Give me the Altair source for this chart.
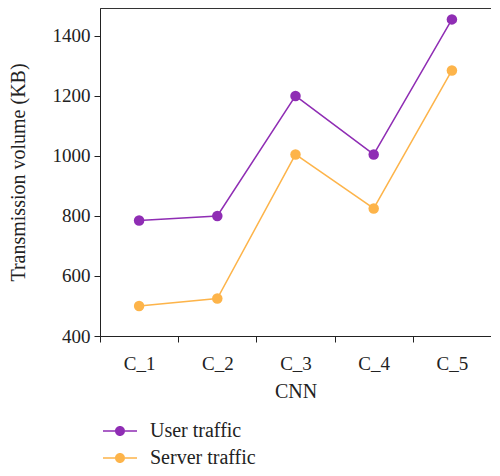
import altair as alt
import pandas as pd

categories = ["C_1", "C_2", "C_3", "C_4", "C_5"]
user_traffic = [785, 800, 1200, 1005, 1455]
server_traffic = [500, 525, 1005, 825, 1285]
series_names = ["User traffic", "Server traffic"]
series_colors = ["#8F2DB4", "#FDB44A"]

rows = []
for c, v in zip(categories, user_traffic):
    rows.append({"CNN": c, "value": v, "series": series_names[0]})
for c, v in zip(categories, server_traffic):
    rows.append({"CNN": c, "value": v, "series": series_names[1]})
df = pd.DataFrame(rows)

FONT = "Liberation Serif"

# filled legend glyph: two thin bars plus a disc
sym_path = (
    "M-1.7,-0.07L-0.5,-0.07L-0.5,0.07L-1.7,0.07Z"
    "M0.5,-0.07L1.7,-0.07L1.7,0.07L0.5,0.07Z"
    "M-0.5,0A0.5,0.5,0,1,1,0.5,0A0.5,0.5,0,1,1,-0.5,0Z"
)

x_enc = alt.X(
    "CNN:N",
    sort=categories,
    bandPosition=0.5,
    scale=alt.Scale(type="band", paddingInner=0, paddingOuter=0),
    axis=alt.Axis(
        title="CNN", labelAngle=0, tickBand="extent", tickSize=6,
        labelPadding=12, titlePadding=8, grid=False,
    ),
)
y_enc = alt.Y(
    "value:Q",
    scale=alt.Scale(domain=[400, 1493], nice=False, zero=False),
    axis=alt.Axis(
        title="Transmission volume (KB)", values=[400, 600, 800, 1000, 1200, 1400],
        format="d", tickSize=6, labelPadding=4, titlePadding=24, grid=False,
    ),
)
color_scale = alt.Scale(domain=series_names, range=series_colors)

lines = alt.Chart(df).mark_line(strokeWidth=1.5).encode(
    x=x_enc, y=y_enc,
    color=alt.Color("series:N", sort=series_names, scale=color_scale, legend=None),
)
points = alt.Chart(df).mark_point(filled=True, size=110, opacity=1, strokeWidth=0).encode(
    x=x_enc, y=y_enc,
    fill=alt.Fill(
        "series:N", sort=series_names, scale=alt.Scale(domain=series_names, range=series_colors),
        legend=alt.Legend(
            title=None, orient="none", legendX=10, legendY=413,
            symbolType=sym_path, symbolSize=400, symbolStrokeWidth=0, symbolOpacity=1,
            labelOffset=20, rowPadding=7, padding=0,
            labelFont=FONT, labelFontSize=20, labelColor="#222",
        ),
    ),
)

chart = (
    alt.layer(lines, points)
    .resolve_scale(color="independent", fill="independent")
    .properties(
        width=391, height=328,
        autosize=alt.AutoSizeParams(type="none"),
        padding={"left": 92, "top": 0, "right": 0, "bottom": 132},
        background="white",
    )
    .configure_view(stroke="#333", strokeWidth=1)
    .configure_axis(
        labelFont=FONT, titleFont=FONT, labelFontSize=19, titleFontSize=20,
        titleFontWeight="normal", labelColor="#222", titleColor="#222",
        domainColor="#222", tickColor="#222", domainWidth=1, tickWidth=1,
    )
)

chart.save("out.html", embed_options={"renderer": "svg", "actions": False})
